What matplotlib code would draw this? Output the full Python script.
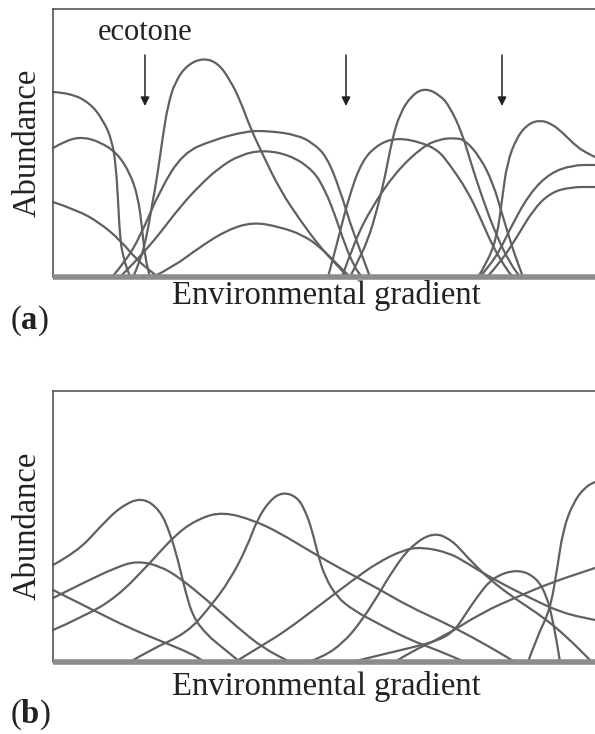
import numpy as np
import matplotlib

matplotlib.use("Agg")
import matplotlib.pyplot as plt
from matplotlib.path import Path
from matplotlib.patches import PathPatch

plt.rcParams["font.family"] = ["Liberation Serif", "DejaVu Serif"]
plt.rcParams["mathtext.fontset"] = "custom"
plt.rcParams["mathtext.rm"] = "Liberation Serif"
plt.rcParams["mathtext.bf"] = "Liberation Serif:bold"

# ---- panel (a): discrete communities separated by ecotones ----
# each curve: position along gradient, abundance
a_curves = [
    ([0, 17, 37, 50, 59, 63, 65, 67, 70, 77],
     [185, 184, 174, 157, 137, 110, 77, 40, 20, 0]),
    ([0, 14, 30, 47, 64, 77, 85, 89, 92, 97],
     [129, 137, 140, 135, 124, 104, 80, 50, 20, 0]),
    ([0, 24, 47, 67, 84, 100, 105],
     [75, 67, 54, 37, 17, 4, 0]),
    ([80, 87, 94, 99, 104, 110, 115, 122, 134, 150, 165, 177, 187, 197, 209,
      227, 247, 267, 282, 295],
     [0, 15, 42, 72, 99, 142, 172, 195, 212, 219, 214, 197, 177, 150, 124,
      87, 57, 30, 14, 0]),
    ([59, 72, 87, 107, 130, 160, 194, 217, 244, 260, 274, 287, 297, 307, 317],
     [0, 15, 40, 87, 124, 137, 146, 146, 142, 134, 120, 87, 54, 27, 0]),
    ([67, 82, 97, 107, 127, 147, 167, 187, 210, 237, 260, 272, 282, 292, 302, 309],
     [0, 15, 32, 44, 70, 92, 110, 122, 127, 122, 107, 87, 62, 32, 9, 0]),
    ([100, 120, 147, 174, 200, 227, 250, 267, 282, 297],
     [0, 10, 30, 47, 55, 50, 42, 30, 15, 0]),
    ([297, 304, 315, 324, 332, 339, 347, 359, 372, 387, 397, 409, 417, 430,
      444, 457, 467],
     [0, 14, 37, 67, 100, 137, 164, 182, 189, 182, 170, 144, 117, 77, 40, 14, 0]),
    ([275, 285, 295, 309, 327, 345, 367, 385, 397, 414, 427, 440, 454, 460],
     [0, 37, 77, 117, 134, 139, 135, 127, 112, 87, 60, 30, 7, 0]),
    ([289, 302, 319, 342, 369, 387, 402, 412, 427, 440, 450, 460, 470],
     [0, 37, 70, 104, 130, 138, 139, 137, 120, 94, 60, 27, 0]),
    ([425, 434, 444, 449, 454, 464, 475, 487, 499, 510, 524, 534, 542],
     [0, 14, 40, 77, 114, 140, 153, 157, 153, 144, 130, 124, 120]),
    ([427, 437, 447, 460, 477, 497, 520, 542],
     [0, 12, 27, 54, 84, 104, 112, 112]),
    ([434, 447, 464, 480, 497, 517, 542],
     [0, 14, 40, 67, 84, 90, 90]),
]
ecotones = [92, 293, 449]

# ---- panel (b): continuum, species replace each other gradually ----
b_curves = [
    ([0, 24, 47, 67, 89, 107, 117, 125, 132, 140, 154, 170, 187],
     [97, 110, 135, 155, 165, 152, 129, 102, 72, 45, 27, 14, 0]),
    ([0, 30, 64, 84, 107, 127, 154, 184, 210, 237],
     [64, 79, 95, 101, 96, 84, 62, 35, 14, 0]),
    ([0, 40, 74, 110, 137, 152],
     [72, 52, 35, 20, 9, 0]),
    ([0, 30, 64, 97, 124, 147, 170, 200, 227, 260, 290, 324, 357, 390, 417,
      442, 462],
     [32, 45, 65, 99, 129, 144, 150, 142, 129, 109, 92, 74, 55, 40, 26, 12, 0]),
    ([77, 97, 134, 157, 177, 194, 204, 217, 230, 244, 252, 259, 265, 272, 284,
      300, 324, 357, 384, 412],
     [0, 12, 29, 55, 82, 115, 142, 162, 170, 165, 152, 132, 107, 85, 65, 52,
      39, 22, 12, 0]),
    ([182, 210, 234, 267, 300, 324, 350, 369, 397, 417, 442, 475, 509, 542],
     [0, 17, 32, 57, 82, 99, 112, 115, 109, 97, 82, 65, 49, 42]),
    ([255, 270, 290, 307, 324, 340, 357, 380, 399, 414, 437, 464, 490, 514, 539],
     [0, 5, 19, 39, 65, 92, 115, 130, 122, 105, 82, 62, 45, 25, 0]),
    ([299, 327, 357, 387, 402, 412, 424, 440, 465, 484, 494, 499, 504, 507],
     [0, 7, 14, 22, 32, 47, 65, 85, 93, 84, 65, 45, 19, 0]),
    ([475, 484, 497, 504, 510, 520, 532, 542],
     [0, 25, 52, 92, 132, 159, 175, 180]),
    ([342, 357, 390, 430, 464, 497, 542],
     [0, 10, 25, 50, 65, 79, 94]),
]

W, H = 595, 734
CURVE = "#606060"
INK = "#222222"
FS = 23.5


def frame(ax, ytop):
    ax.set_xlim(0, 542)
    ax.set_ylim(0, ytop)
    ax.set_xticks([])
    ax.set_yticks([])
    for s in ("left", "top"):
        ax.spines[s].set_color("#555555")
        ax.spines[s].set_linewidth(1.2)
    ax.spines["right"].set_visible(False)
    ax.spines["bottom"].set_color("#8c8c8c")
    ax.spines["bottom"].set_linewidth(4)
    ax.spines["bottom"].set_capstyle("butt")


def draw(ax, curves):
    # read points used as quadratic Bezier controls, so matplotlib draws smooth curves
    for x, y in curves:
        pts = np.column_stack([x, y]).astype(float)
        verts = [pts[0]]
        codes = [Path.MOVETO]
        for i in range(1, len(pts) - 1):
            verts += [pts[i], (pts[i] + pts[i + 1]) / 2]
            codes += [Path.CURVE3, Path.CURVE3]
        verts.append(pts[-1])
        codes.append(Path.LINETO)
        ax.add_patch(PathPatch(Path(verts, codes), fill=False, edgecolor=CURVE,
                               lw=1.6, capstyle="round", joinstyle="round",
                               clip_on=False))


fig = plt.figure(figsize=(W / 100, H / 100), dpi=100)

ax_a = fig.add_axes([53 / W, 1 - 277 / H, 542 / W, 268 / H])
frame(ax_a, 268)
draw(ax_a, a_curves)
for g in ecotones:
    ax_a.annotate("", xy=(g, 171), xytext=(g, 222),
                  arrowprops=dict(arrowstyle="-|>", color=INK, lw=1.1,
                                  mutation_scale=13, shrinkA=0, shrinkB=0))
ax_a.text(ecotones[0], 244, "ecotone", ha="center", va="center", fontsize=22,
          color=INK)

ax_b = fig.add_axes([53 / W, 1 - 662 / H, 542 / W, 271 / H])
frame(ax_b, 271)
draw(ax_b, b_curves)

for ylab_y, xlab_y, tag, tag_y in ((143, 296, "a", 321), (526, 686, "b", 715)):
    fig.text(27 / W, 1 - ylab_y / H, "Abundance", rotation=90, ha="center",
             va="center", fontsize=FS, color=INK)
    fig.text(326 / W, 1 - xlab_y / H, "Environmental gradient", ha="center",
             va="center", fontsize=FS, color=INK)
    fig.text(10 / W, 1 - tag_y / H, "(" + r"$\mathbf{" + tag + "}$" + ")",
             ha="left", va="center", fontsize=FS, color=INK)

fig.savefig("out.png", dpi=100, facecolor="white")
